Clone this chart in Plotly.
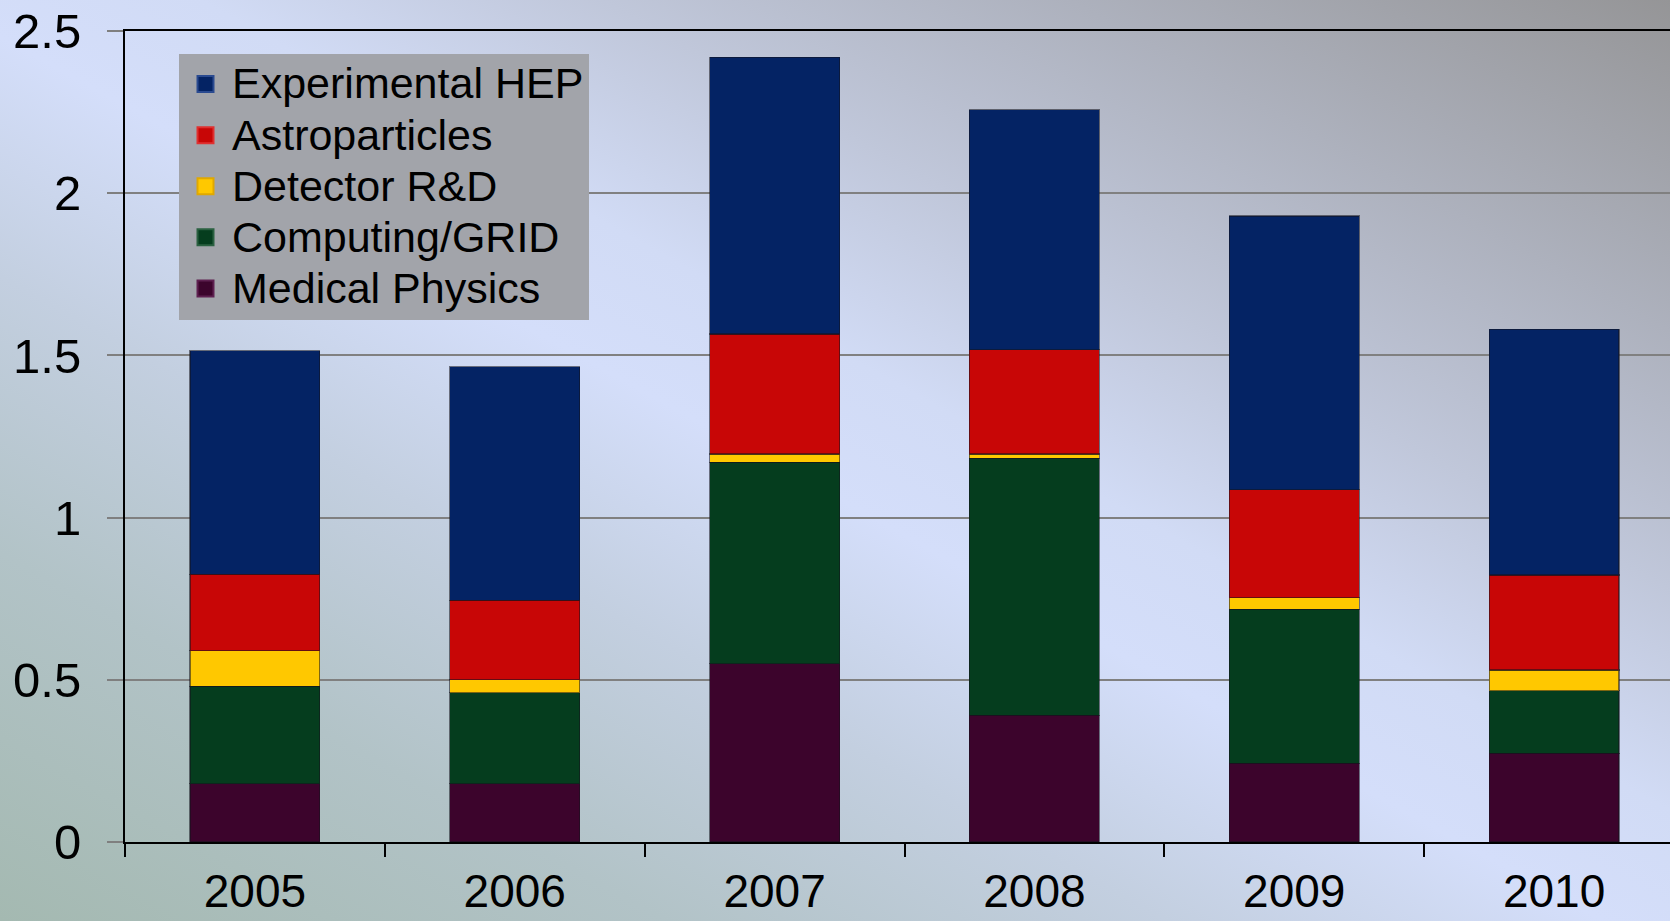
import base64
import plotly.graph_objects as go

years = ["2005", "2006", "2007", "2008", "2009", "2010"]

medical_physics = [0.18, 0.18, 0.55, 0.39, 0.243, 0.273]
computing_grid = [0.30, 0.28, 0.62, 0.793, 0.474, 0.194]
detector_rd = [0.11, 0.04, 0.026, 0.013, 0.036, 0.063]
astroparticles = [0.235, 0.245, 0.37, 0.321, 0.333, 0.293]
experimental_hep = [0.69, 0.72, 0.853, 0.74, 0.844, 0.757]

series = [
    ("Medical Physics", medical_physics, "#3c042c", "#5e2050"),
    ("Computing/GRID", computing_grid, "#053d1e", "#2a6040"),
    ("Detector R&D", detector_rd, "#ffc800", "#e0a800"),
    ("Astroparticles", astroparticles, "#c80606", "#e03030"),
    ("Experimental HEP", experimental_hep, "#042364", "#2a4a90"),
]

W, H = 1670, 921
ML, MR, MT, MB = 125, 0, 31, 79
PW, PH = W - ML - MR, H - MT - MB

svg = (
    "<svg xmlns='http://www.w3.org/2000/svg' width='1670' height='921' "
    "viewBox='0 0 1670 921' preserveAspectRatio='none'>"
    "<defs><linearGradient id='g' x1='0' y1='1' x2='1' y2='0'>"
    "<stop offset='0' stop-color='#a4b9b1'/>"
    "<stop offset='0.2' stop-color='#b2c3c7'/>"
    "<stop offset='0.35' stop-color='#c3cfe0'/>"
    "<stop offset='0.48' stop-color='#d4defa'/>"
    "<stop offset='0.56' stop-color='#d1dbf5'/>"
    "<stop offset='0.68' stop-color='#c0c7da'/>"
    "<stop offset='0.82' stop-color='#adb1bd'/>"
    "<stop offset='1' stop-color='#959597'/>"
    "</linearGradient></defs>"
    "<rect width='1670' height='921' fill='url(#g)'/></svg>"
)
bg_src = "data:image/svg+xml;base64," + base64.b64encode(svg.encode()).decode()

fig = go.Figure()
for name, vals, color, edge in series:
    fig.add_trace(go.Bar(
        x=years, y=vals, name=name, showlegend=False, legendgroup=name,
        marker=dict(color=color, line=dict(color="rgba(20,20,30,0.55)", width=1.2)),
    ))
# legend entries with larger square swatches
for name, vals, color, edge in series:
    fig.add_trace(go.Scatter(
        x=[None], y=[None], mode="markers", legendgroup=name,
        name='<span style="font-size:43px">' + name.replace("&", "&amp;") + "</span>",
        marker=dict(symbol="square", size=16, color=color, line=dict(color=edge, width=2)),
        hoverinfo="skip",
    ))

fig.update_layout(
    width=W, height=H,
    margin=dict(l=ML, r=MR, t=MT, b=MB, autoexpand=False),
    barmode="stack",
    bargap=0.5,
    paper_bgcolor="#c8d3ea",
    plot_bgcolor="rgba(0,0,0,0)",
    font=dict(family="Liberation Sans, Arial, sans-serif", color="black"),
    images=[dict(
        source=bg_src, xref="paper", yref="paper",
        x=-ML / PW, y=1 + MT / PH, sizex=W / PW, sizey=H / PH,
        xanchor="left", yanchor="top", sizing="stretch", layer="below",
    )],
    legend=dict(
        x=(179 - ML) / PW, y=(842.5 - 54) / PH, xanchor="left", yanchor="top",
        bgcolor="#a2a4aa", font=dict(size=37, color="black"),
        traceorder="reversed", itemwidth=43, itemsizing="trace",
        tracegroupgap=0,
    ),
    showlegend=True,
)

fig.update_xaxes(
    type="category", range=[-0.5, 5.446], automargin=False,
    showline=True, linecolor="black", linewidth=2, mirror=True,
    ticks="outside", tickson="boundaries", ticklen=13, tickcolor="black", tickwidth=2,
    tickfont=dict(size=46, color="black"),
    ticklabelstandoff=8,
    showgrid=False,
)
fig.update_yaxes(
    range=[0, 2.5], tickvals=[0, 0.5, 1, 1.5, 2, 2.5], automargin=False,
    ticktext=["0", "0.5", "1", "1.5", "2", "2.5"],
    showline=True, linecolor="black", linewidth=2,
    ticks="outside", ticklen=16, tickcolor="#7f7f7f", tickwidth=2,
    showgrid=True, gridcolor="#808080", gridwidth=2,
    zeroline=False,
    tickfont=dict(size=49, color="black"),
    ticklabelstandoff=16,
)

fig.write_html(
    "out.html",
    config={"displayModeBar": False},
    post_script="document.body.style.margin='0';document.body.style.overflow='hidden';",
)
